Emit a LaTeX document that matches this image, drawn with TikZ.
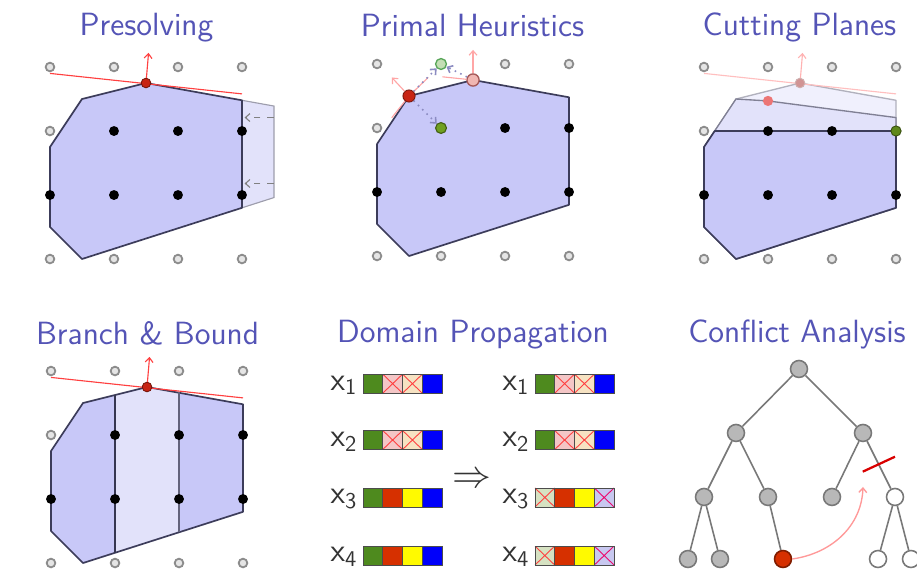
\documentclass[tikz,border=0pt]{standalone}
\usepackage{tikz}
\usetikzlibrary{arrows.meta}
\definecolor{ttl}{RGB}{84,84,182}
\definecolor{polyfill}{RGB}{200,200,248}
\definecolor{polylight}{RGB}{226,226,250}
\definecolor{polyvlight}{RGB}{240,240,253}
\definecolor{polyline}{RGB}{60,60,90}
\definecolor{ptred}{RGB}{200,36,20}
\definecolor{ptpink}{RGB}{240,182,178}
\definecolor{ptgreen}{RGB}{112,160,32}
\definecolor{ptlgreen}{RGB}{196,222,180}
\definecolor{dgreen}{RGB}{78,138,30}
\definecolor{dpink}{RGB}{244,198,198}
\definecolor{dcream}{RGB}{246,226,194}
\definecolor{dblue}{RGB}{0,0,250}
\definecolor{dred}{RGB}{214,48,0}
\definecolor{dyellow}{RGB}{255,250,0}
\definecolor{dlgreen}{RGB}{214,226,194}
\definecolor{dlblue}{RGB}{200,200,240}
\definecolor{tgray}{RGB}{120,120,120}
\definecolor{tfill}{RGB}{184,184,184}
\tikzset{
  ttlnode/.style={font=\sffamily\fontsize{14.3}{17}\selectfont, text=ttl, anchor=base, inner sep=0pt},
  gpt/.style={circle, draw=gray!90, fill=gray!20, line width=0.8pt, minimum size=0.135cm, inner sep=0pt},
  bpt/.style={circle, fill=black, minimum size=0.155cm, inner sep=0pt},
  redpt/.style={circle, fill=ptred, draw=ptred!60!black, line width=0.4pt, minimum size=0.16cm, inner sep=0pt},
  polyshape/.style={fill=polyfill, draw=polyline, line width=0.75pt, line join=round},
  objline/.style={red!75, line width=0.5pt},
  objarrow/.style={red!75, line width=0.5pt, -{Straight Barb[length=2pt,width=3.5pt]}},
  faint/.style={red!35, line width=0.5pt},
  faintarrow/.style={red!35, line width=0.5pt, -{Straight Barb[length=2pt,width=3.5pt]}},
  dotarrow/.style={blue!30!gray!70, dotted, line width=0.7pt, -{Straight Barb[length=2pt,width=3.5pt]}},
  dcell/.style={draw=gray!60!black, line width=0.4pt, minimum width=0.309cm, minimum height=0.297cm, inner sep=0pt},
  xcell/.style={dcell, path picture={\draw[red!75, line width=0.4pt] (path picture bounding box.north west)--(path picture bounding box.south east) (path picture bounding box.north east)--(path picture bounding box.south west);}},
  mxcell/.style={dcell, path picture={\draw[magenta!70!red, line width=0.4pt] (path picture bounding box.north west)--(path picture bounding box.south east) (path picture bounding box.north east)--(path picture bounding box.south west);}},
  dlabel/.style={anchor=base east, inner sep=0pt, text=black!80, font=\fontsize{14}{16}\selectfont},
  tnode/.style={circle, minimum size=0.265cm, inner sep=0pt, draw=tgray, fill=tfill, line width=0.7pt},
  wnode/.style={tnode, fill=white},
  rnode/.style={tnode, fill=dred, draw=dred!60!black},
  tedge/.style={tgray, line width=0.7pt}
}
\newcommand{\graypts}[2]{\foreach \a/\b in {#2} {\node[gpt] (#1g\a\b) at (\a,\b) {};}}
\newcommand{\blackpts}[2]{\foreach \a/\b in {#2} {\node[bpt] (#1b\a\b) at (\a,\b) {};}}
\begin{document}
\begin{tikzpicture}[x=1cm,y=1cm]
\useasboundingbox (0,0) rectangle (14.328,8.953);
\fill[white] (0,0) rectangle (14.328,8.953);

% titles
\node[ttlnode] (t1) at (2.289,8.391) {Presolving};
\node[ttlnode] (t2) at (7.383,8.375) {Primal Heuristics};
\node[ttlnode] (t3) at (12.492,8.391) {Cutting Planes};
\node[ttlnode] (t4) at (2.305,3.563) {Branch \& Bound};
\node[ttlnode] (t5) at (7.391,3.609) {Domain Propagation};
\node[ttlnode] (t6) at (12.453,3.609) {Conflict Analysis};

% ---------- Presolving ----------
\begin{scope}[shift={(0.781,4.906)}]
  \filldraw[fill=polylight, draw=polyline!50, line width=0.5pt] (3,0.8) -- (3.5,0.96) -- (3.5,2.39) -- (3,2.48) -- cycle;
  \filldraw[polyshape] (0.5,0) -- (3,0.8) -- (3,2.48) -- (1.5,2.75) -- (0.5,2.5) -- (0,1.75) -- (0,0.5) -- cycle;
  \coordinate (p1s1) at (3.5,2.21); \coordinate (p1e1) at (3.04,2.21);
  \coordinate (p1s2) at (3.5,1.18); \coordinate (p1e2) at (3.04,1.18);
  \draw[gray, dashed, line width=0.5pt, -{Straight Barb[length=2pt,width=3.5pt]}] (p1s1) -- (p1e1);
  \draw[gray, dashed, line width=0.5pt, -{Straight Barb[length=2pt,width=3.5pt]}] (p1s2) -- (p1e2);
  \coordinate (p1oa) at (0,2.9); \coordinate (p1ob) at (3,2.58);
  \draw[objline] (p1oa) -- (p1ob);
  \graypts{p1}{0/3,1/3,2/3,3/3,0/2,0/0,1/0,2/0,3/0}
  \blackpts{p1}{1/2,2/2,3/2,0/1,1/1,2/1,3/1}
  \coordinate (p1up) at (1.54,3.22);
  \node[redpt, minimum size=0.15cm] (p1r) at (1.5,2.75) {};
  \draw[objarrow] (p1r) -- (p1up);
\end{scope}

% ---------- Primal Heuristics ----------
\begin{scope}[shift={(5.891,4.953)}]
  \filldraw[polyshape] (0.5,0) -- (3,0.8) -- (3,2.48) -- (1.5,2.75) -- (0.5,2.5) -- (0,1.75) -- (0,0.5) -- cycle;
  \graypts{p2}{0/3,2/3,3/3,0/2,0/0,1/0,2/0,3/0}
  \blackpts{p2}{2/2,3/2,0/1,1/1,2/1,3/1}
  \node[circle, fill=ptlgreen, draw=gray!70!green, line width=0.6pt, minimum size=0.17cm, inner sep=0pt] (p2lg) at (1,3) {};
  \node[circle, fill=ptgreen, draw=ptgreen!60!black, line width=0.5pt, minimum size=0.17cm, inner sep=0pt] (p2g) at (1,2) {};
  \node[redpt, minimum size=0.19cm] (p2r) at (0.5,2.5) {};
  \node[circle, fill=ptpink, draw=red!30!gray, line width=0.6pt, minimum size=0.19cm, inner sep=0pt] (p2pk) at (1.5,2.75) {};
  \coordinate (p2ul) at (0.23,2.79); \coordinate (p2ur) at (0.8,2.79); \coordinate (p2ll) at (0.23,2.16);
  \coordinate (p2pu) at (1.5,3.22); \coordinate (p2pl) at (1.02,2.8);
  \draw[faintarrow] (p2r) -- (p2ul);
  \draw[faint] (p2r) -- (p2ur);
  \draw[faint] (p2r) -- (p2ll);
  \draw[faintarrow] (p2pk) -- (p2pu);
  \draw[faint] (p2pk) -- (p2pl);
  \draw[dotarrow] (p2r) -- (p2g);
  \draw[dotarrow] (p2r) -- (p2lg);
  \draw[dotarrow] (p2pk) -- (p2lg);
\end{scope}

% ---------- Cutting Planes ----------
\begin{scope}[shift={(11.0,4.906)}]
  \filldraw[fill=polyvlight, draw=polyline!40, line width=0.6pt, line join=round] (0.5,0) -- (3,0.8) -- (3,2.48) -- (1.5,2.75) -- (0.5,2.5) -- (0,1.75) -- (0,0.5) -- cycle;
  \filldraw[fill=polylight, draw=polyline!65, line width=0.6pt, line join=round] (0.5,0) -- (3,0.8) -- (3,2.21) -- (1,2.47) -- (0.5,2.5) -- (0,1.75) -- (0,0.5) -- cycle;
  \filldraw[polyshape] (0.5,0) -- (3,0.8) -- (3,2.0) -- (0.167,2.0) -- (0,1.75) -- (0,0.5) -- cycle;
  \coordinate (p3oa) at (0,2.9); \coordinate (p3ob) at (3,2.58);
  \draw[red!25, line width=0.5pt] (p3oa) -- (p3ob);
  \graypts{p3}{0/3,1/3,2/3,3/3,0/2,0/0,1/0,2/0,3/0}
  \blackpts{p3}{1/2,2/2,0/1,1/1,2/1,3/1}
  \node[circle, fill=ptgreen!85!black, draw=ptgreen!50!black, line width=0.4pt, minimum size=0.16cm, inner sep=0pt] (p3g) at (3,2) {};
  \node[circle, fill=red!40!gray!60, draw=red!25!gray!50, line width=0.4pt, minimum size=0.15cm, inner sep=0pt] (p3pale) at (1.5,2.75) {};
  \node[circle, fill=red!55!white!85!gray, minimum size=0.16cm, inner sep=0pt] (p3pk) at (1,2.47) {};
  \coordinate (p3up) at (1.54,3.22);
  \draw[red!30, line width=0.5pt, -{Straight Barb[length=2pt,width=3.5pt]}] (p3pale) -- (p3up);
\end{scope}

% ---------- Branch & Bound ----------
\begin{scope}[shift={(0.797,0.156)}]
  \fill[polyfill] (0,0.5) -- (0.5,0) -- (1,0.16) -- (1,2.625) -- (0.5,2.5) -- (0,1.75) -- cycle;
  \fill[polylight] (1,0.16) -- (2,0.48) -- (2,2.667) -- (1.5,2.75) -- (1,2.625) -- cycle;
  \fill[polyfill] (2,0.48) -- (3,0.8) -- (3,2.48) -- (2,2.667) -- cycle;
  \draw[polyline, line width=0.75pt, line join=round] (0.5,0) -- (3,0.8) -- (3,2.48) -- (1.5,2.75) -- (0.5,2.5) -- (0,1.75) -- (0,0.5) -- cycle;
  \draw[polyline!90!black, line width=1.1pt] (1,0.16) -- (1,2.625);
  \draw[polyline!80, line width=0.7pt] (2,0.48) -- (2,2.667);
  \coordinate (p4oa) at (0,2.9); \coordinate (p4ob) at (3,2.58);
  \draw[objline] (p4oa) -- (p4ob);
  \graypts{p4}{0/3,1/3,2/3,3/3,0/2,0/0,1/0,2/0,3/0}
  \blackpts{p4}{1/2,2/2,3/2,0/1,1/1,2/1,3/1}
  \coordinate (p4up) at (1.54,3.22);
  \node[redpt, minimum size=0.15cm] (p4r) at (1.5,2.75) {};
  \draw[objarrow] (p4r) -- (p4up);
\end{scope}

% ---------- Domain Propagation ----------
\foreach \r/\y in {1/2.958,2/2.078} {
  \node[dlabel] (la\r) at (5.594,\y-0.1) {$\mathsf{x}_{\mathsf{\r}}$};
  \node[dcell, fill=dgreen] (L\r a) at (5.826,\y) {};
  \node[xcell, fill=dpink] (L\r b) at (6.135,\y) {};
  \node[xcell, fill=dcream] (L\r c) at (6.444,\y) {};
  \node[dcell, fill=dblue] (L\r d) at (6.753,\y) {};
  \node[dlabel] (lb\r) at (8.281,\y-0.1) {$\mathsf{x}_{\mathsf{\r}}$};
  \node[dcell, fill=dgreen] (R\r a) at (8.513,\y) {};
  \node[xcell, fill=dpink] (R\r b) at (8.822,\y) {};
  \node[xcell, fill=dcream] (R\r c) at (9.131,\y) {};
  \node[dcell, fill=dblue] (R\r d) at (9.440,\y) {};
}
\foreach \r/\y in {3/1.180,4/0.273} {
  \node[dlabel] (la\r) at (5.594,\y-0.1) {$\mathsf{x}_{\mathsf{\r}}$};
  \node[dcell, fill=dgreen] (L\r a) at (5.826,\y) {};
  \node[dcell, fill=dred] (L\r b) at (6.135,\y) {};
  \node[dcell, fill=dyellow] (L\r c) at (6.444,\y) {};
  \node[dcell, fill=dblue] (L\r d) at (6.753,\y) {};
  \node[dlabel] (lb\r) at (8.281,\y-0.1) {$\mathsf{x}_{\mathsf{\r}}$};
  \node[xcell, fill=dlgreen] (R\r a) at (8.513,\y) {};
  \node[dcell, fill=dred] (R\r b) at (8.822,\y) {};
  \node[dcell, fill=dyellow] (R\r c) at (9.131,\y) {};
  \node[mxcell, fill=dlblue] (R\r d) at (9.440,\y) {};
}
\node[inner sep=0pt, text=black!80, font=\fontsize{19}{20}\selectfont] (impl) at (7.367,1.453) {$\Rightarrow$};

% ---------- Conflict Analysis ----------
\node[tnode] (r) at (12.484,3.188) {};
\node[tnode] (a) at (11.5,2.188) {};
\node[tnode] (b) at (13.484,2.188) {};
\node[tnode] (aa) at (11.0,1.188) {};
\node[tnode] (ab) at (12.0,1.188) {};
\node[tnode] (ba) at (13.0,1.188) {};
\node[wnode] (bb) at (13.984,1.188) {};
\node[tnode] (aaa) at (10.75,0.219) {};
\node[tnode] (aab) at (11.25,0.219) {};
\node[rnode] (abx) at (12.234,0.219) {};
\node[wnode] (bba) at (13.719,0.219) {};
\node[wnode] (bbb) at (14.234,0.219) {};
\draw[tedge] (r) -- (a);
\draw[tedge] (r) -- (b);
\draw[tedge] (a) -- (aa);
\draw[tedge] (a) -- (ab);
\draw[tedge] (b) -- (ba);
\draw[tedge] (b) -- (bb);
\draw[tedge] (aa) -- (aaa);
\draw[tedge] (aa) -- (aab);
\draw[tedge] (ab) -- (abx);
\draw[tedge] (bb) -- (bba);
\draw[tedge] (bb) -- (bbb);
\coordinate (cutA) at (13.48,1.583);
\coordinate (cutB) at (13.984,1.817);
\draw[red!85!black, line width=1pt] (cutA) -- (cutB);
\coordinate (ctip) at (13.484,1.344);
\draw[red!40, line width=0.6pt, -{Straight Barb[length=2pt,width=3.5pt]}] (abx.east) to[out=8,in=-92] (ctip);
\end{tikzpicture}
\end{document}
